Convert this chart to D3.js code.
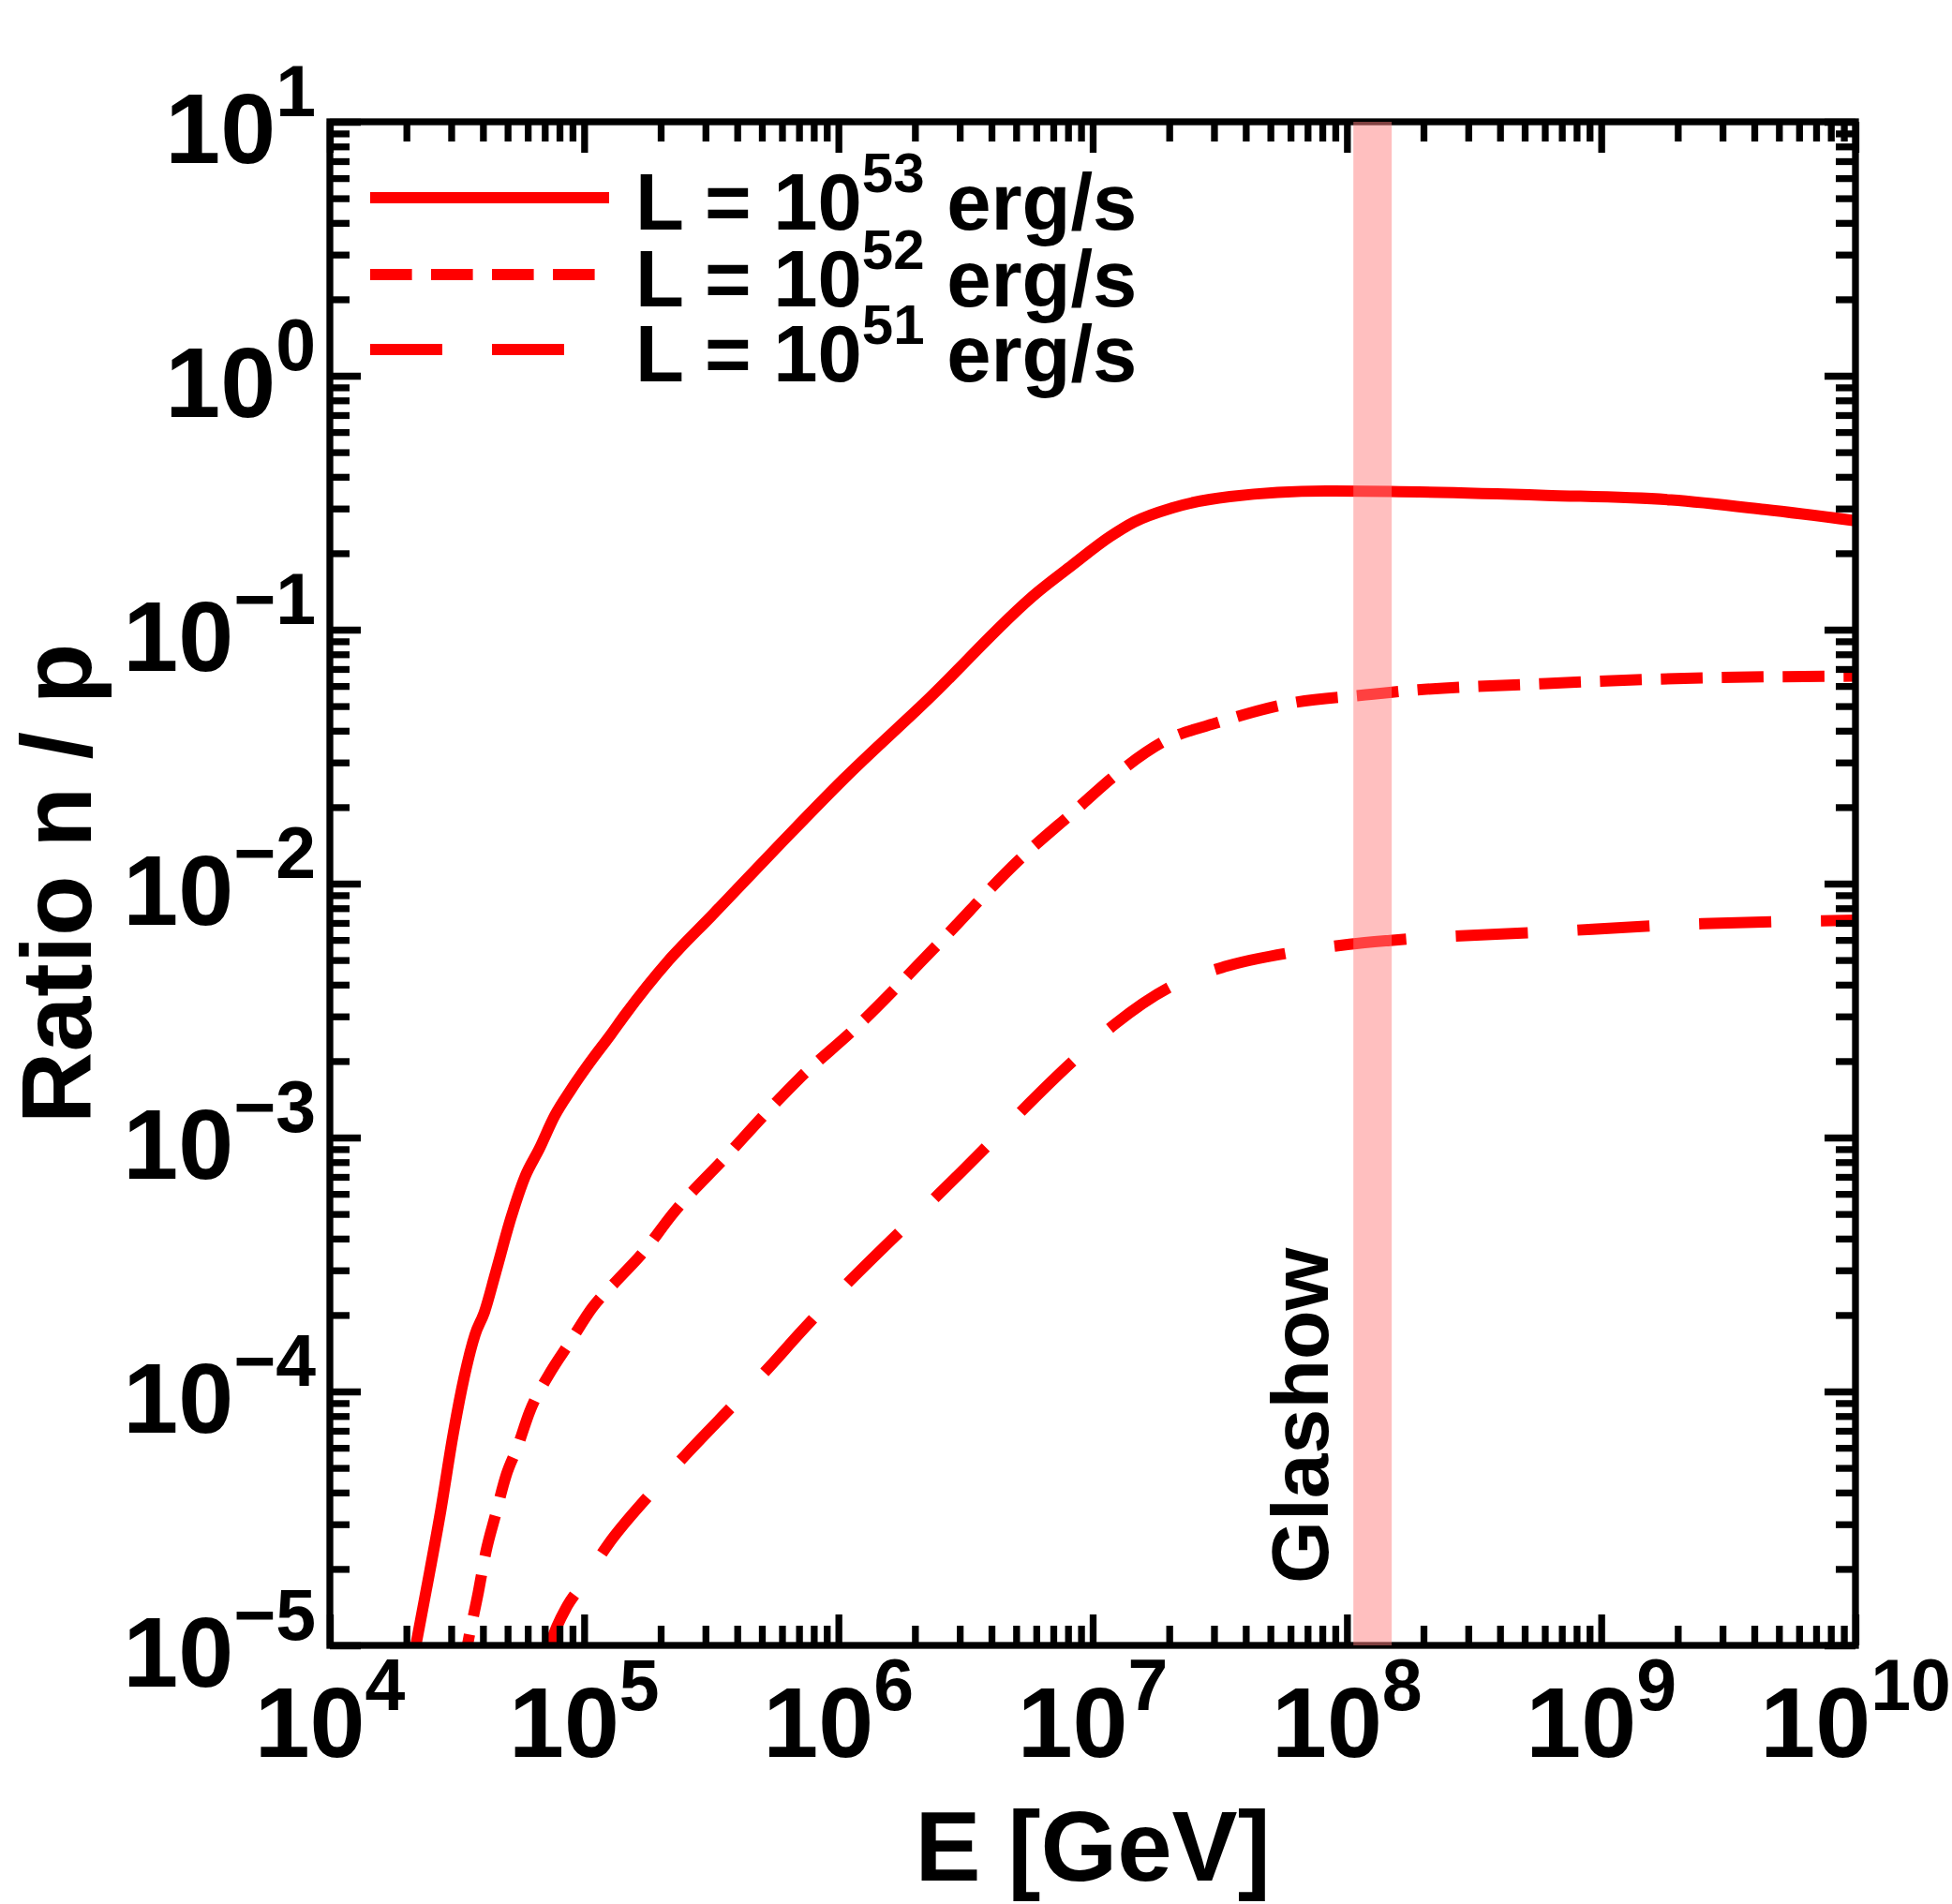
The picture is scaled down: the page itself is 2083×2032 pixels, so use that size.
<!DOCTYPE html>
<html>
<head>
<meta charset="utf-8">
<script src="https://cdn.jsdelivr.net/npm/d3@7"></script>
<style>
  body { margin: 0; background: #fff; }
  text { font-family: "Liberation Sans", Arial, sans-serif; font-weight: bold; fill: #000; }
</style>
</head>
<body>
<svg id="chart" width="2083" height="2032"></svg>
<script>
// values, as log10 of E [GeV] and log10 of n/p
var logE53 = [4.31, 4.338, 4.381, 4.436, 4.485, 4.528, 4.571, 4.608, 4.651, 4.713, 4.768, 4.823, 4.885, 4.946, 5.020, 5.106, 5.160, 5.332, 5.504, 5.774, 6.020, 6.352, 6.787, 6.918, 7.069, 7.163, 7.314, 7.539, 7.916, 8.169, 8.783, 9.275, 9.643, 10.0];
var logR53 = [-5.15, -5.0, -4.772, -4.470, -4.168, -3.945, -3.776, -3.687, -3.536, -3.314, -3.153, -3.046, -2.913, -2.815, -2.708, -2.593, -2.518, -2.303, -2.124, -1.841, -1.589, -1.275, -0.849, -0.747, -0.633, -0.576, -0.520, -0.476, -0.454, -0.456, -0.471, -0.489, -0.527, -0.571];

var logE52 = [4.52, 4.541, 4.584, 4.614, 4.651, 4.694, 4.737, 4.786, 4.860, 4.946, 5.032, 5.130, 5.229, 5.352, 5.560, 5.725, 5.843, 6.069, 6.401, 6.708, 6.938, 7.088, 7.276, 7.502, 7.765, 8.104, 8.169, 8.783, 9.397, 10.0];
var logR52 = [-5.12, -5.0, -4.790, -4.630, -4.488, -4.328, -4.221, -4.079, -3.936, -3.803, -3.670, -3.562, -3.456, -3.296, -3.073, -2.893, -2.771, -2.567, -2.229, -1.909, -1.706, -1.574, -1.442, -1.363, -1.292, -1.254, -1.247, -1.212, -1.190, -1.183];

var logE51 = [4.85, 4.866, 4.934, 4.983, 5.094, 5.265, 5.401, 5.597, 5.732, 5.843, 6.486, 6.938, 7.088, 7.314, 7.520, 7.784, 8.010, 8.169, 8.783, 9.397, 10.0];
var logR51 = [-5.06, -5.0, -4.844, -4.772, -4.603, -4.398, -4.248, -4.043, -3.900, -3.776, -3.133, -2.685, -2.553, -2.402, -2.327, -2.271, -2.239, -2.224, -2.190, -2.158, -2.144];

var seriesNames = ['53', '52', '51'];
var seriesDash = [null, '44.6 20.4', '77 53'];

var xDecades = [4, 5, 6, 7, 8, 9, 10];
var yDecades = [-5, -4, -3, -2, -1, 0, 1];
var glashowBand = [1.06e8, 1.5e8];

(function () {
    'use strict';

    var svg = d3.select('#chart');
    var m = {left: 352, right: 1980, top: 130, bottom: 1756};
    var lw = 7.3;

    var x = d3.scaleLog().domain([1e4, 1e10]).range([m.left, m.right]);
    var y = d3.scaleLog().domain([1e-5, 10]).range([m.bottom, m.top]);

    svg.append('rect').attr('width', 2083).attr('height', 2032).attr('fill', '#fff');

    svg.append('defs').append('clipPath').attr('id', 'plot')
        .append('rect').attr('x', m.left).attr('y', m.top)
        .attr('width', m.right - m.left).attr('height', m.bottom - m.top);

    // curves
    var line = d3.line()
        .x(function (d) { return x(Math.pow(10, d[0])); })
        .y(function (d) { return y(Math.pow(10, d[1])); })
        .curve(d3.curveMonotoneX);

    var series = [d3.zip(logE53, logR53), d3.zip(logE52, logR52), d3.zip(logE51, logR51)];
    var curves = svg.append('g').attr('clip-path', 'url(#plot)');
    series.forEach(function (pts, i) {
        curves.append('path')
            .attr('d', line(pts))
            .attr('fill', 'none')
            .attr('stroke', '#ff0000')
            .attr('stroke-width', 12)
            .attr('stroke-dasharray', seriesDash[i]);
    });

    // minor tick values 2..9 in each decade
    function minors(decades) {
        var out = [];
        decades.slice(0, -1).forEach(function (p) {
            for (var k = 2; k <= 9; k++) { out.push(k * Math.pow(10, p)); }
        });
        return out;
    }
    var xMajor = xDecades.map(function (p) { return Math.pow(10, p); });
    var yMajor = yDecades.map(function (p) { return Math.pow(10, p); });

    function ticks(axis, pos, values, size) {
        svg.append('g')
            .attr('transform', pos)
            .attr('color', '#000')
            .call(axis.tickValues(values).tickSizeInner(-size).tickSizeOuter(0).tickFormat(''))
            .call(function (g) {
                g.select('.domain').remove();
                g.selectAll('line').attr('stroke-width', lw);
            });
    }
    [[21, minors(xDecades), minors(yDecades)], [33, xMajor, yMajor]].forEach(function (t) {
        ticks(d3.axisBottom(x), 'translate(0,' + m.bottom + ')', t[1], t[0]);
        ticks(d3.axisTop(x), 'translate(0,' + m.top + ')', t[1], t[0]);
        ticks(d3.axisLeft(y), 'translate(' + m.left + ',0)', t[2], t[0]);
        ticks(d3.axisRight(y), 'translate(' + m.right + ',0)', t[2], t[0]);
    });

    svg.append('rect')
        .attr('x', m.left).attr('y', m.top)
        .attr('width', m.right - m.left).attr('height', m.bottom - m.top)
        .attr('fill', 'none').attr('stroke', '#000').attr('stroke-width', lw);

    // tick labels
    function power(p) { return p < 0 ? '\u2212' + (-p) : String(p); }

    xDecades.forEach(function (p) {
        var t = svg.append('text')
            .attr('x', x(Math.pow(10, p)))
            .attr('y', m.bottom + 119)
            .attr('text-anchor', 'middle')
            .style('font-size', '106px');
        t.append('tspan').text('10');
        t.append('tspan').attr('dy', -50).style('font-size', '77px').text(power(p));
    });

    yDecades.forEach(function (p) {
        var t = svg.append('text')
            .attr('x', 337)
            .attr('y', y(Math.pow(10, p)) + 44)
            .attr('text-anchor', 'end')
            .style('font-size', '106px');
        t.append('tspan').text('10');
        t.append('tspan').attr('dy', -50).style('font-size', '77px').text(power(p));
    });

    // axis titles
    svg.append('text')
        .attr('x', (m.left + m.right) / 2)
        .attr('y', 2007)
        .attr('text-anchor', 'middle')
        .style('font-size', '105px')
        .text('E [GeV]');

    svg.append('text')
        .attr('transform', 'translate(97,' + (m.top + m.bottom) / 2 + ') rotate(-90)')
        .attr('text-anchor', 'middle')
        .style('font-size', '106px')
        .text('Ratio n / p');

    // legend
    var legendY = [211, 293, 373];
    seriesNames.forEach(function (name, i) {
        svg.append('line')
            .attr('x1', 395).attr('x2', 650)
            .attr('y1', legendY[i]).attr('y2', legendY[i])
            .attr('stroke', '#ff0000')
            .attr('stroke-width', 12)
            .attr('stroke-dasharray', seriesDash[i]);

        var t = svg.append('text')
            .attr('x', 678)
            .attr('y', legendY[i] + 34)
            .style('font-size', '85px');
        t.append('tspan').text('L = 10');
        t.append('tspan').attr('dy', -40).style('font-size', '60px').text(name);
        t.append('tspan').attr('dy', 40).text(' erg/s');
    });

    // Glashow label and band
    svg.append('text')
        .attr('transform', 'translate(1417,1690) rotate(-90)')
        .style('font-size', '86px')
        .text('Glashow');

    svg.append('rect')
        .attr('x', x(glashowBand[0]))
        .attr('width', x(glashowBand[1]) - x(glashowBand[0]))
        .attr('y', m.top)
        .attr('height', m.bottom - m.top)
        .attr('fill', '#ff8080')
        .attr('fill-opacity', 0.5);
})();
</script>
</body>
</html>
